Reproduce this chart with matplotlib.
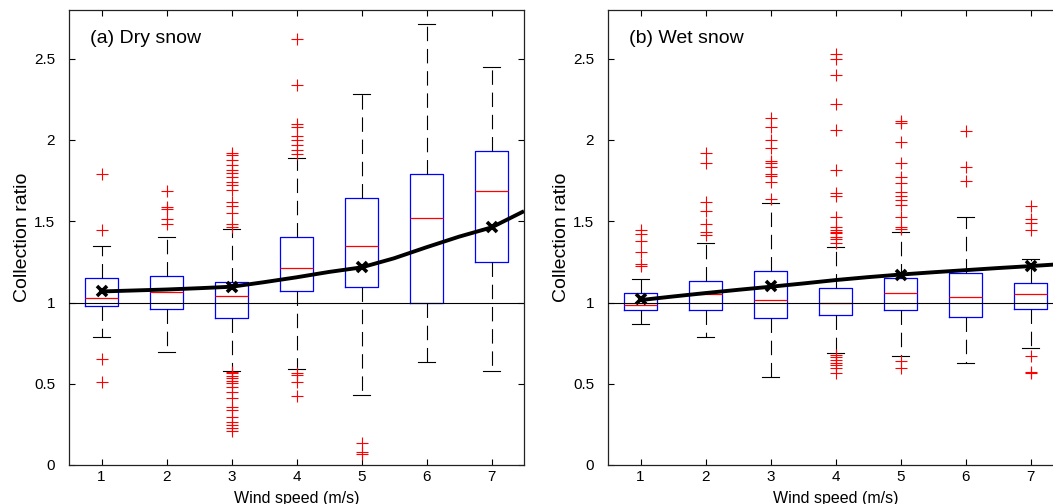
import matplotlib
matplotlib.use("Agg")
import matplotlib.pyplot as plt

plt.rcParams['font.family'] = ['Liberation Sans', 'DejaVu Sans']

# ---------------- data ----------------
wind = [1, 2, 3, 4, 5, 6, 7]
xticks = [1, 2, 3, 4, 5, 6, 7]
yticks = [0, 0.5, 1, 1.5, 2, 2.5]
ytick_labels = ['0', '0.5', '1', '1.5', '2', '2.5']

# (a) Dry snow
dry_q1 = [0.978, 0.957, 0.902, 1.070, 1.095, 0.998, 1.250]
dry_med = [1.025, 1.062, 1.039, 1.213, 1.345, 1.517, 1.687]
dry_q3 = [1.150, 1.162, 1.124, 1.400, 1.640, 1.792, 1.933]
dry_whislo = [0.789, 0.697, 0.580, 0.588, 0.429, 0.633, 0.580]
dry_whishi = [1.349, 1.404, 1.451, 1.890, 2.282, 2.712, 2.451]
dry_fliers = [
    [1.79, 1.445, 0.652, 0.512],
    [1.687, 1.585, 1.574, 1.513, 1.486],
    [1.923, 1.907, 1.876, 1.845, 1.814, 1.794, 1.773, 1.742, 1.722, 1.691,
     1.619, 1.595, 1.548, 1.482, 1.466,
     0.574, 0.564, 0.547, 0.533, 0.519, 0.502, 0.482, 0.451, 0.410, 0.359,
     0.338, 0.297, 0.266, 0.246, 0.225, 0.212],
    [2.624, 2.337, 2.101, 2.081, 2.023, 1.999, 1.968, 1.937, 1.913,
     0.564, 0.553, 0.512, 0.424],
    [0.133, 0.082, 0.068],
    [],
    [],
]
dry_mean_x = [1, 3, 5, 7]
dry_mean = [1.070, 1.097, 1.216, 1.462]
curve_x = [1, 1.5, 2, 2.5, 3, 3.5, 4, 4.5, 5, 5.5, 6, 6.5, 7, 7.5]
dry_curve = [1.068, 1.074, 1.080, 1.088, 1.097, 1.125, 1.155, 1.188, 1.216,
             1.272, 1.340, 1.405, 1.462, 1.562]

# (b) Wet snow
wet_q1 = [0.953, 0.953, 0.902, 0.923, 0.953, 0.908, 0.957]
wet_med = [0.984, 1.052, 1.015, 1.000, 1.056, 1.033, 1.050]
wet_q3 = [1.060, 1.133, 1.191, 1.090, 1.148, 1.183, 1.117]
wet_whislo = [0.869, 0.789, 0.539, 0.687, 0.670, 0.625, 0.722]
wet_whishi = [1.142, 1.367, 1.615, 1.341, 1.435, 1.527, 1.267]
wet_fliers = [
    [1.445, 1.419, 1.380, 1.308, 1.234, 1.226],
    [1.921, 1.859, 1.619, 1.564, 1.486, 1.435, 1.415],
    [2.138, 2.081, 1.999, 1.952, 1.871, 1.861, 1.835, 1.790, 1.779, 1.739, 1.634],
    [2.532, 2.497, 2.399, 2.224, 2.060, 1.818, 1.675, 1.654, 1.527, 1.466,
     1.449, 1.435, 1.425, 1.404, 1.388, 1.367,
     0.677, 0.662, 0.646, 0.629, 0.615, 0.595, 0.568],
    [2.117, 2.105, 1.988, 1.859, 1.773, 1.736, 1.681, 1.654, 1.630, 1.599,
     1.527, 1.466, 1.455, 0.640, 0.595],
    [2.054, 1.831, 1.749],
    [1.595, 1.511, 1.490, 1.445, 0.672, 0.574, 0.564],
]
wet_mean_x = [1, 3, 5, 7]
wet_mean = [1.019, 1.101, 1.168, 1.226]
wet_curve = [1.015, 1.037, 1.058, 1.078, 1.097, 1.117, 1.138, 1.156, 1.172,
             1.186, 1.199, 1.212, 1.224, 1.237]

panels = [
    ('(a) Dry snow', dry_q1, dry_med, dry_q3, dry_whislo, dry_whishi, dry_fliers,
     dry_mean_x, dry_mean, dry_curve),
    ('(b) Wet snow', wet_q1, wet_med, wet_q3, wet_whislo, wet_whishi, wet_fliers,
     wet_mean_x, wet_mean, wet_curve),
]

# ---------------- figure ----------------
W, H = 1053, 504
fig = plt.figure(figsize=(W / 100, H / 100), dpi=100)
lefts = [69, 608]

for left, (title, q1, med, q3, wlo, whi, fl, mx, mv, cv) in zip(lefts, panels):
    ax = fig.add_axes([left / W, 39 / H, 455 / W, 455 / H])
    stats = []
    for i in range(len(wind)):
        stats.append(dict(q1=q1[i], med=med[i], q3=q3[i], whislo=wlo[i],
                          whishi=whi[i], fliers=fl[i]))
    ax.bxp(stats, positions=wind, widths=0.5, capwidths=0.25, showfliers=True,
           manage_ticks=False,
           boxprops=dict(color='#0000ff', lw=0.9),
           medianprops=dict(color='#ff0000', lw=0.9),
           whiskerprops=dict(color='black', lw=0.8, linestyle=(0, (13, 7))),
           capprops=dict(color='black', lw=0.8),
           flierprops=dict(marker='+', markeredgecolor='#ff0000', markersize=8,
                           markeredgewidth=0.8, linestyle='none'))
    ax.axhline(1, color='black', lw=0.8, zorder=3)
    ax.plot(curve_x, cv, color='black', lw=2.8, zorder=4, solid_capstyle='butt',
            solid_joinstyle='round')
    ax.plot(mx, mv, linestyle='none', marker='x', color='black', ms=7, mew=2.6,
            zorder=5)

    ax.set_xlim(0.5, 7.5)
    ax.set_ylim(0, 2.8)
    ax.set_xticks(xticks)
    ax.set_xticklabels([str(t) for t in xticks])
    ax.set_yticks(yticks)
    ax.set_yticklabels(ytick_labels)
    ax.tick_params(direction='in', length=4, width=0.8, top=True, right=True,
                   labelsize=11, colors='black')
    ax.tick_params(axis='y', pad=10)
    ax.tick_params(axis='x', pad=3.5)
    for s in ax.spines.values():
        s.set_linewidth(0.9)
        s.set_color('#222222')
    ax.set_ylabel('Collection ratio', fontsize=14, labelpad=2)
    ax.set_xlabel('Wind speed (m/s)', fontsize=11.5, labelpad=5)
    ax.text(0.047, 0.927, title, transform=ax.transAxes, fontsize=14,
            va='baseline', ha='left')

fig.savefig('out.png', dpi=100)
